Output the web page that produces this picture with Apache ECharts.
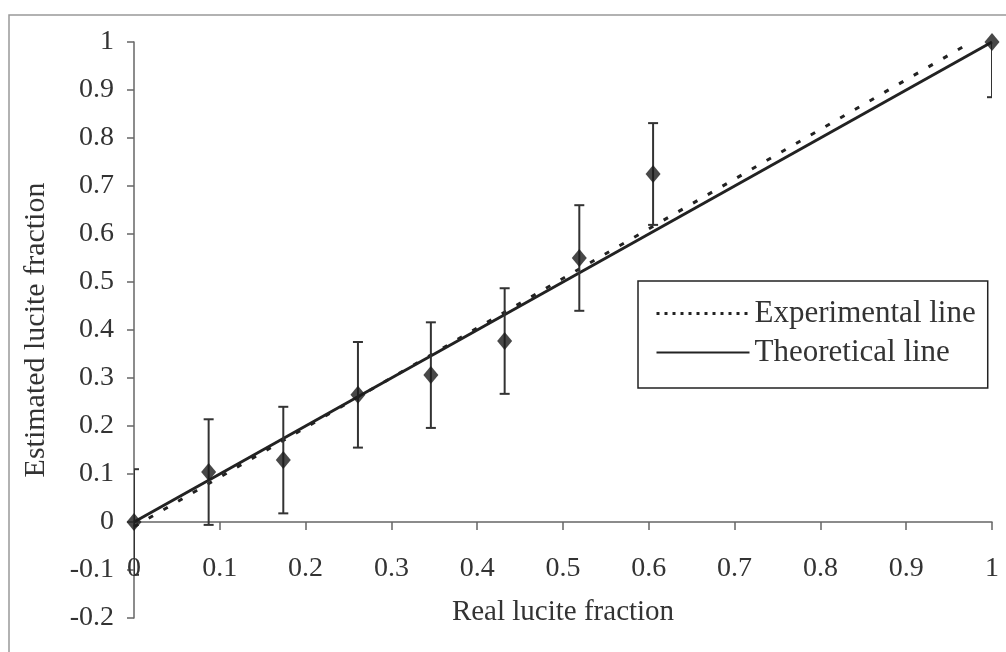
<!DOCTYPE html>
<html>
<head>
<meta charset="utf-8">
<script src="https://cdn.jsdelivr.net/npm/echarts@6/dist/echarts.min.js"></script>
<style>
  html, body { margin: 0; padding: 0; background: #fff; }
  #chart { width: 1006px; height: 652px; }
</style>
</head>
<body>
<div id="chart"></div>
<script>
// measured points (real fraction, estimated fraction, error)
var realFrac = [0, 0.087, 0.174, 0.261, 0.346, 0.432, 0.519, 0.605, 1.0];
var estFrac = [0, 0.104, 0.129, 0.265, 0.306, 0.377, 0.55, 0.725, 1.0];
var errors = [0.11, 0.11, 0.111, 0.11, 0.11, 0.11, 0.11, 0.106, 0.115];

// fitted / theoretical lines (end points)
var expLineX = [0, 0.976];
var expLineY = [-0.01, 1.0];
var theoLineX = [0, 1];
var theoLineY = [0, 1];

var font = '"Liberation Serif", "DejaVu Serif", serif';
var fmt = function (v) { return String(+v.toFixed(1)); };

var myChart = echarts.init(document.getElementById('chart'));

var pts = realFrac.map(function (x, i) { return [x, estFrac[i]]; });
var bars = realFrac.map(function (x, i) { return [x, estFrac[i] - errors[i], estFrac[i] + errors[i]]; });

myChart.setOption({
    animation: false,
    graphic: [{
        type: 'rect',
        shape: { x: 9, y: 15, width: 1010, height: 650 },
        style: { fill: 'none', stroke: '#999', lineWidth: 1.5 },
        silent: true
    }],
    grid: {
        left: 134, right: 14, top: 42, bottom: 34,
        containLabel: false,
        outerBoundsMode: 'none'
    },
    legend: {
        orient: 'vertical',
        left: 638, top: 281,
        padding: [17, 12, 20, 17],
        itemGap: 8,
        itemWidth: 93,
        itemHeight: 14,
        borderColor: '#222',
        borderWidth: 1.5,
        backgroundColor: '#fff',
        itemStyle: { opacity: 0 },
        textStyle: { fontFamily: font, fontSize: 31, color: '#333' },
        data: [
            { name: 'Experimental line', lineStyle: { color: '#222', width: 3, type: [3, 5] } },
            { name: 'Theoretical line', lineStyle: { color: '#222', width: 2 } }
        ]
    },
    xAxis: [
        {
            // axis line and ticks through y = 0
            type: 'value',
            min: 0, max: 1, interval: 0.1,
            axisLine: { onZero: true, lineStyle: { color: '#666', width: 1.5 } },
            axisTick: { show: true, length: 8, lineStyle: { color: '#666', width: 1.5 } },
            axisLabel: { show: false },
            splitLine: { show: false }
        },
        {
            // tick labels and title, placed low like the original
            type: 'value',
            position: 'bottom',
            offset: -63,
            min: 0, max: 1, interval: 0.1,
            name: 'Real lucite fraction',
            nameLocation: 'middle',
            nameGap: 43,
            nameTextStyle: { fontFamily: font, fontSize: 29, color: '#333' },
            axisLine: { show: false, onZero: false },
            axisTick: { show: false },
            axisLabel: { margin: 0, fontFamily: font, fontSize: 28, color: '#333', formatter: fmt },
            splitLine: { show: false }
        }
    ],
    yAxis: {
        type: 'value',
        min: -0.2, max: 1, interval: 0.1,
        name: 'Estimated lucite fraction',
        nameLocation: 'middle',
        nameGap: 83,
        nameTextStyle: { fontFamily: font, fontSize: 30, color: '#333' },
        axisLine: { show: true, onZero: false, lineStyle: { color: '#666', width: 1.5 } },
        axisTick: { show: true, length: 7, lineStyle: { color: '#666', width: 1.5 } },
        axisLabel: { margin: 20, fontFamily: font, fontSize: 28, color: '#333', formatter: fmt },
        splitLine: { show: false }
    },
    series: [
        {
            name: 'Experimental line',
            type: 'line',
            data: expLineX.map(function (x, i) { return [x, expLineY[i]]; }),
            symbol: 'none',
            z: 3,
            itemStyle: { color: '#222' },
            lineStyle: { color: '#222', width: 3, type: [5, 12] }
        },
        {
            name: 'Theoretical line',
            type: 'line',
            data: theoLineX.map(function (x, i) { return [x, theoLineY[i]]; }),
            symbol: 'none',
            z: 3,
            itemStyle: { color: '#222' },
            lineStyle: { color: '#222', width: 3 }
        },
        {
            name: 'errors',
            type: 'custom',
            clip: true,
            z: 4,
            data: bars,
            renderItem: function (params, api) {
                var x = api.value(0);
                var lo = api.coord([x, api.value(1)]);
                var hi = api.coord([x, api.value(2)]);
                var w = 5;
                var st = { stroke: '#333', lineWidth: 2 };
                return {
                    type: 'group',
                    children: [
                        { type: 'line', shape: { x1: lo[0], y1: lo[1], x2: hi[0], y2: hi[1] }, style: st },
                        { type: 'line', shape: { x1: lo[0] - w, y1: lo[1], x2: lo[0] + w, y2: lo[1] }, style: st },
                        { type: 'line', shape: { x1: hi[0] - w, y1: hi[1], x2: hi[0] + w, y2: hi[1] }, style: st }
                    ]
                };
            }
        },
        {
            name: 'points',
            type: 'scatter',
            data: pts,
            symbol: 'diamond',
            symbolSize: [15, 18],
            z: 5,
            itemStyle: { color: '#1a1a1a' }
        }
    ]
});
</script>
</body>
</html>
